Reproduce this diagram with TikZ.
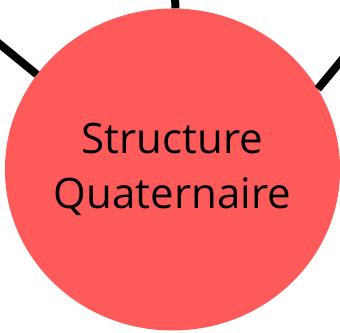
\documentclass[tikz,border=0pt]{standalone}
\usepackage{fontspec}
\setmainfont{Open Sans}
\usetikzlibrary{shapes.geometric}
\usepackage{xcolor}
\definecolor{quatred}{HTML}{FF5A5A}
\tikzset{
  bubble/.style={ellipse,fill=quatred,draw=none,inner sep=0pt,
    minimum width=329pt,minimum height=322pt,align=center,
    font=\fontsize{42}{55}\selectfont},
  link/.style={line width=8pt,black}
}

\begin{document}
\begin{tikzpicture}[x=1pt,y=1pt]
  \useasboundingbox (0,0) rectangle (340,332);
  % Central node
  \node[bubble] (quat) at (172.5,162.5) {Structure\\Quaternaire};
  % Free ends of the links (outside the frame)
  \coordinate (upleft) at (-20,304);
  \coordinate (up) at (175,352);
  \coordinate (upright) at (360,294);
  % Links
  \draw[link] (quat.145) -- (upleft);
  \draw[link] (quat.89) -- (up);
  \draw[link] (quat.29) -- (upright);
\end{tikzpicture}
\end{document}
